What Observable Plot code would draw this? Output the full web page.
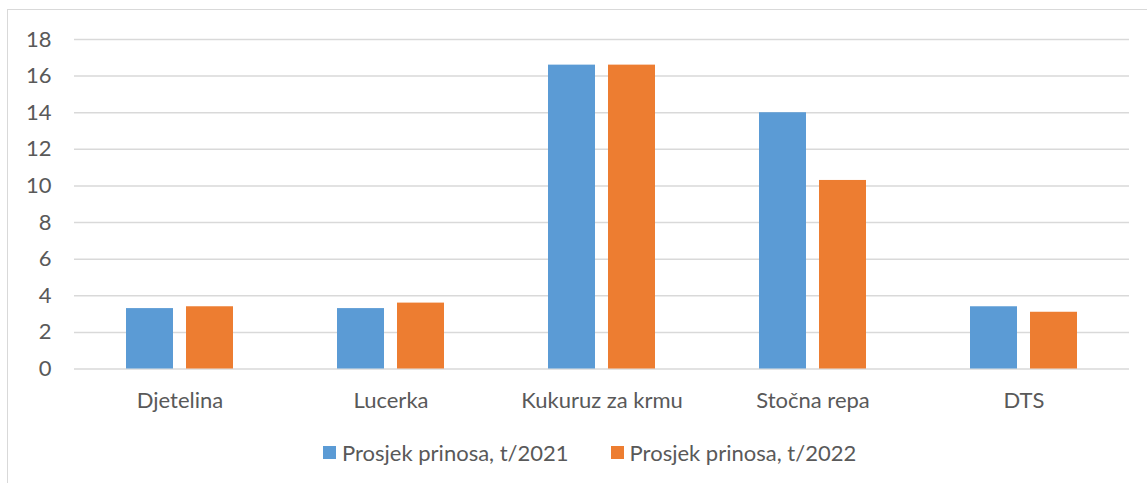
<!DOCTYPE html>
<html>
<head>
<meta charset="utf-8">
<script src="https://cdn.jsdelivr.net/npm/d3@7"></script>
<script src="https://cdn.jsdelivr.net/npm/@observablehq/plot@0.6"></script>
<style>
  html, body { margin: 0; padding: 0; background: #fff; }
  #wrap { position: relative; width: 1147px; height: 483px; overflow: hidden; font-family: Lato, "Liberation Sans", sans-serif; color: #595959; }
  #frame { position: absolute; left: 7px; top: 9px; width: 1200px; height: 520px; border-left: 1.5px solid #d9d9d9; border-top: 1.5px solid #d9d9d9; }
  #chart { position: absolute; left: 0; top: 0; }
  #legend { position: absolute; left: 323px; top: 439px; display: flex; align-items: center; font-size: 22px; white-space: nowrap; }
  .item { display: flex; align-items: center; margin-right: 42px; }
  .sw { width: 13px; height: 13px; margin-right: 6px; }
</style>
</head>
<body>
<div id="wrap">
  <div id="frame"></div>
  <div id="chart"></div>
  <div id="legend"></div>
</div>
<script>
const categories = ["Djetelina", "Lucerka", "Kukuruz za krmu", "Stočna repa", "DTS"];
const seriesNames = ["Prosjek prinosa, t/2021", "Prosjek prinosa, t/2022"];
const values2021 = [3.3, 3.3, 16.6, 14.0, 3.4];
const values2022 = [3.4, 3.6, 16.6, 10.3, 3.1];
const yTicks = [0, 2, 4, 6, 8, 10, 12, 14, 16, 18];
const colors = ["#5B9BD5", "#ED7D31"];

const data = [];
categories.forEach((c, i) => {
  data.push({category: c, series: seriesNames[0], value: values2021[i]});
  data.push({category: c, series: seriesNames[1], value: values2022[i]});
});

const chart = Plot.plot({
  width: 1147,
  height: 420,
  marginLeft: 72,
  marginRight: 16,
  marginTop: 39,
  marginBottom: 51.5,
  style: {fontFamily: "Lato, 'Liberation Sans', sans-serif", color: "#595959", background: "transparent"},
  fx: {domain: categories, paddingInner: 0, paddingOuter: 0, label: null},
  x: {domain: seriesNames, paddingInner: 0.215, paddingOuter: 0.858, axis: null},
  y: {domain: [0, 18], ticks: yTicks, label: null},
  color: {domain: seriesNames, range: colors},
  marks: [
    Plot.gridY(yTicks, {stroke: "#d9d9d9", strokeOpacity: 1, strokeWidth: 1.5}),
    Plot.barY(data, {fx: "category", x: "series", y: "value", fill: "series", inset: 0}),
    Plot.axisY(yTicks, {anchor: "left", tickSize: 0, tickPadding: 23, fontSize: 22, fill: "#595959", label: null}),
    Plot.axisFx({anchor: "bottom", tickSize: 0, tickPadding: 23.5, fontSize: 22, fill: "#595959", label: null})
  ]
});
document.getElementById("chart").appendChild(chart);

const legend = document.getElementById("legend");
seriesNames.forEach((s, i) => {
  const item = document.createElement("div");
  item.className = "item";
  const sw = document.createElement("div");
  sw.className = "sw";
  sw.style.background = colors[i];
  const t = document.createElement("span");
  t.textContent = s;
  item.appendChild(sw);
  item.appendChild(t);
  legend.appendChild(item);
});
</script>
</body>
</html>
